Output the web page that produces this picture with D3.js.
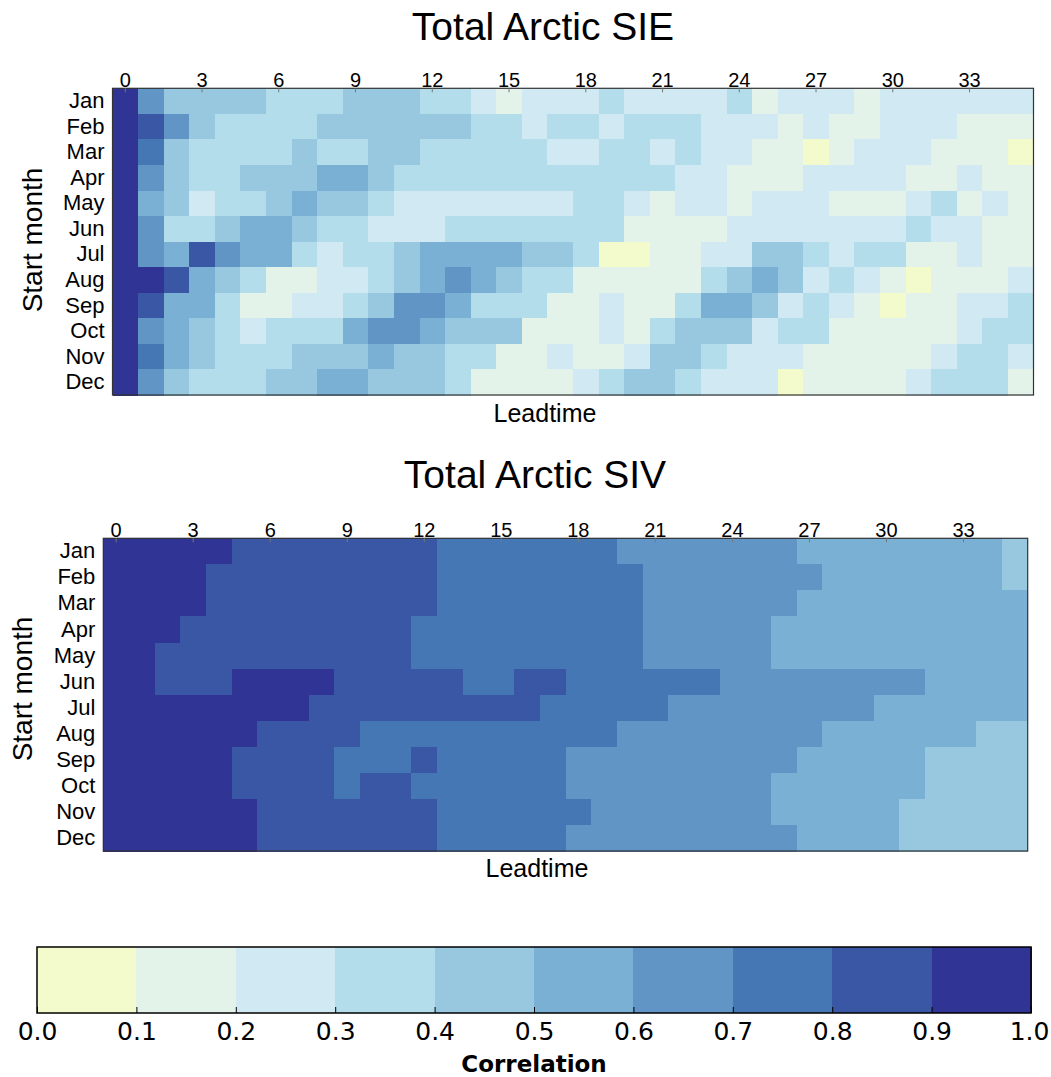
<!DOCTYPE html>
<html>
<head>
<meta charset="utf-8">
<script src="https://cdn.jsdelivr.net/npm/d3@7"></script>
<style>
  body { margin: 0; background: #fff; }
  text { font-family: "Liberation Sans", Arial, sans-serif; fill: #000; }
  .cbar text { font-family: "DejaVu Sans", sans-serif; }
</style>
</head>
<body>
<svg id="chart" width="1051" height="1077"></svg>
<script>
const months = ['Jan', 'Feb', 'Mar', 'Apr', 'May', 'Jun', 'Jul', 'Aug', 'Sep', 'Oct', 'Nov', 'Dec'];
const leadtimes = d3.range(36);
const leadTicks = [0, 3, 6, 9, 12, 15, 18, 21, 24, 27, 30, 33];
const corrTicks = [0, 0.1, 0.2, 0.3, 0.4, 0.5, 0.6, 0.7, 0.8, 0.9, 1.0];
const binColors = ['#f3facb', '#e4f3ea', '#d1e9f2', '#b3ddea', '#97c8df',
                   '#79b0d3', '#6095c5', '#4577b5', '#3a57a6', '#303494'];

// correlation per start month (rows) and leadtime 0..35 (cols)
const sieValues = [
  [.95,.65,.45,.45,.45,.45,.35,.35,.35,.45,.45,.45,.35,.35,.25,.15,.25,.25,.25,.35,.25,.25,.25,.25,.35,.15,.25,.25,.25,.15,.25,.25,.25,.25,.25,.25],
  [.95,.85,.65,.45,.35,.35,.35,.35,.45,.45,.45,.45,.45,.45,.35,.35,.25,.35,.35,.25,.35,.35,.35,.25,.25,.25,.15,.25,.15,.15,.25,.25,.25,.15,.15,.15],
  [.95,.75,.45,.35,.35,.35,.35,.45,.35,.35,.45,.45,.35,.35,.35,.35,.35,.25,.25,.35,.35,.25,.35,.25,.25,.15,.15,.05,.15,.25,.25,.25,.15,.15,.15,.05],
  [.95,.65,.45,.35,.35,.45,.45,.45,.55,.55,.45,.35,.35,.35,.35,.35,.35,.35,.35,.35,.35,.35,.25,.25,.15,.15,.15,.25,.25,.25,.25,.15,.15,.25,.15,.15],
  [.95,.55,.45,.25,.35,.35,.45,.55,.45,.45,.35,.25,.25,.25,.25,.25,.25,.25,.35,.35,.25,.15,.25,.25,.15,.25,.25,.25,.15,.15,.15,.25,.35,.15,.25,.15],
  [.95,.65,.35,.35,.45,.55,.55,.45,.35,.35,.25,.25,.25,.35,.35,.35,.35,.35,.35,.35,.15,.15,.15,.15,.25,.25,.25,.25,.25,.25,.25,.35,.25,.25,.15,.15],
  [.95,.65,.55,.85,.65,.55,.55,.35,.25,.35,.35,.45,.55,.55,.55,.55,.45,.45,.35,.05,.05,.15,.15,.25,.25,.45,.45,.35,.25,.35,.35,.15,.15,.25,.15,.15],
  [.95,.95,.85,.55,.45,.35,.15,.15,.25,.25,.35,.45,.55,.65,.55,.45,.35,.35,.15,.15,.15,.15,.15,.35,.45,.55,.45,.25,.35,.25,.15,.05,.15,.15,.15,.25],
  [.95,.85,.55,.55,.35,.15,.15,.25,.25,.35,.45,.65,.65,.55,.35,.35,.35,.15,.15,.25,.15,.15,.35,.55,.55,.45,.25,.35,.25,.15,.05,.15,.15,.25,.25,.35],
  [.95,.65,.55,.45,.35,.25,.35,.35,.35,.55,.65,.65,.55,.45,.45,.45,.15,.15,.15,.25,.15,.35,.45,.45,.45,.25,.35,.35,.15,.15,.15,.15,.15,.25,.35,.35],
  [.95,.75,.55,.45,.35,.35,.35,.45,.45,.45,.55,.45,.45,.35,.35,.15,.15,.25,.15,.15,.25,.45,.45,.35,.25,.25,.25,.15,.15,.15,.15,.15,.25,.35,.35,.25],
  [.95,.65,.45,.35,.35,.35,.45,.45,.55,.55,.45,.45,.45,.35,.15,.15,.15,.15,.25,.35,.45,.45,.35,.25,.25,.25,.05,.15,.15,.15,.15,.25,.35,.35,.35,.15]
];

const sivValues = [
  [.95,.95,.95,.95,.95,.85,.85,.85,.85,.85,.85,.85,.85,.75,.75,.75,.75,.75,.75,.75,.65,.65,.65,.65,.65,.65,.65,.55,.55,.55,.55,.55,.55,.55,.55,.45],
  [.95,.95,.95,.95,.85,.85,.85,.85,.85,.85,.85,.85,.85,.75,.75,.75,.75,.75,.75,.75,.75,.65,.65,.65,.65,.65,.65,.65,.55,.55,.55,.55,.55,.55,.55,.45],
  [.95,.95,.95,.95,.85,.85,.85,.85,.85,.85,.85,.85,.85,.75,.75,.75,.75,.75,.75,.75,.75,.65,.65,.65,.65,.65,.65,.55,.55,.55,.55,.55,.55,.55,.55,.55],
  [.95,.95,.95,.85,.85,.85,.85,.85,.85,.85,.85,.85,.75,.75,.75,.75,.75,.75,.75,.75,.75,.65,.65,.65,.65,.65,.55,.55,.55,.55,.55,.55,.55,.55,.55,.55],
  [.95,.95,.85,.85,.85,.85,.85,.85,.85,.85,.85,.85,.75,.75,.75,.75,.75,.75,.75,.75,.75,.65,.65,.65,.65,.65,.55,.55,.55,.55,.55,.55,.55,.55,.55,.55],
  [.95,.95,.85,.85,.85,.95,.95,.95,.95,.85,.85,.85,.85,.85,.75,.75,.85,.85,.75,.75,.75,.75,.75,.75,.65,.65,.65,.65,.65,.65,.65,.65,.55,.55,.55,.55],
  [.95,.95,.95,.95,.95,.95,.95,.95,.85,.85,.85,.85,.85,.85,.85,.85,.85,.75,.75,.75,.75,.75,.65,.65,.65,.65,.65,.65,.65,.65,.55,.55,.55,.55,.55,.55],
  [.95,.95,.95,.95,.95,.95,.85,.85,.85,.85,.75,.75,.75,.75,.75,.75,.75,.75,.75,.75,.65,.65,.65,.65,.65,.65,.65,.65,.55,.55,.55,.55,.55,.55,.45,.45],
  [.95,.95,.95,.95,.95,.85,.85,.85,.85,.75,.75,.75,.85,.75,.75,.75,.75,.75,.65,.65,.65,.65,.65,.65,.65,.65,.65,.55,.55,.55,.55,.55,.45,.45,.45,.45],
  [.95,.95,.95,.95,.95,.85,.85,.85,.85,.75,.85,.85,.75,.75,.75,.75,.75,.75,.65,.65,.65,.65,.65,.65,.65,.65,.55,.55,.55,.55,.55,.55,.45,.45,.45,.45],
  [.95,.95,.95,.95,.95,.95,.85,.85,.85,.85,.85,.85,.85,.75,.75,.75,.75,.75,.75,.65,.65,.65,.65,.65,.65,.65,.55,.55,.55,.55,.55,.45,.45,.45,.45,.45],
  [.95,.95,.95,.95,.95,.95,.85,.85,.85,.85,.85,.85,.85,.75,.75,.75,.75,.75,.65,.65,.65,.65,.65,.65,.65,.65,.65,.55,.55,.55,.55,.45,.45,.45,.45,.45]
];

const svg = d3.select('#chart');
const color = d3.scaleQuantize().domain([0, 1]).range(binColors);

function drawHeatmap(values, box, labels) {
  const x = d3.scaleBand().domain(leadtimes).range([box.left, box.right]);
  const y = d3.scaleBand().domain(months).range([box.top, box.bottom]);
  const g = svg.append('g');

  const cells = values.flatMap((row, i) =>
    row.map((v, j) => ({ month: months[i], lead: leadtimes[j], value: v })));

  g.append('g')
    .attr('shape-rendering', 'crispEdges')
    .selectAll('rect')
    .data(cells)
    .join('rect')
      .attr('x', d => x(d.lead))
      .attr('y', d => y(d.month))
      .attr('width', x.bandwidth() + 0.6)
      .attr('height', y.bandwidth() + 0.6)
      .attr('fill', d => color(d.value));

  g.append('rect')
    .attr('x', box.left).attr('y', box.top)
    .attr('width', box.right - box.left).attr('height', box.bottom - box.top)
    .attr('fill', 'none').attr('stroke', '#333').attr('stroke-width', 1.2);

  const xAxis = g.append('g')
    .attr('transform', `translate(0,${box.top})`)
    .call(d3.axisTop(x).tickValues(leadTicks).tickSize(-4).tickPadding(1));
  xAxis.select('.domain').remove();
  xAxis.selectAll('line').attr('stroke', '#777');
  xAxis.selectAll('text').attr('font-size', 20).attr('font-family', '"Liberation Sans", Arial, sans-serif');

  const yAxis = g.append('g')
    .attr('transform', `translate(${box.left},0)`)
    .call(d3.axisLeft(y).tickSize(0).tickPadding(8));
  yAxis.select('.domain').remove();
  yAxis.selectAll('text').attr('font-size', 22).attr('font-family', '"Liberation Sans", Arial, sans-serif');

  g.append('text')
    .attr('x', labels.titleX).attr('y', labels.titleY)
    .attr('text-anchor', 'middle').attr('font-size', 39)
    .text(labels.title);

  g.append('text')
    .attr('x', labels.xLabelX).attr('y', labels.xLabelY)
    .attr('text-anchor', 'middle').attr('font-size', 25)
    .text('Leadtime');

  g.append('text')
    .attr('transform', `translate(${labels.yLabelX},${labels.yLabelY}) rotate(-90)`)
    .attr('text-anchor', 'middle').attr('dy', '0.35em').attr('font-size', 28)
    .text('Start month');
}

drawHeatmap(sieValues, { left: 112.5, right: 1033.5, top: 88.3, bottom: 395 }, {
  title: 'Total Arctic SIE', titleX: 543, titleY: 40,
  xLabelX: 545, xLabelY: 422, yLabelX: 32, yLabelY: 240
});

drawHeatmap(sivValues, { left: 103.3, right: 1027.7, top: 538.3, bottom: 851 }, {
  title: 'Total Arctic SIV', titleX: 535, titleY: 488,
  xLabelX: 537, xLabelY: 877, yLabelX: 22, yLabelY: 689
});

// colorbar
const cb = { left: 37, right: 1031, top: 947, bottom: 1013 };
const cx = d3.scaleLinear().domain([0, 1]).range([cb.left, cb.right]);
const bins = d3.pairs(corrTicks);
const cbar = svg.append('g').attr('class', 'cbar');

cbar.append('g')
  .attr('shape-rendering', 'crispEdges')
  .selectAll('rect')
  .data(bins)
  .join('rect')
    .attr('x', d => cx(d[0]))
    .attr('y', cb.top)
    .attr('width', d => cx(d[1]) - cx(d[0]) + 0.6)
    .attr('height', cb.bottom - cb.top)
    .attr('fill', d => color((d[0] + d[1]) / 2));

cbar.append('rect')
  .attr('x', cb.left).attr('y', cb.top)
  .attr('width', cb.right - cb.left).attr('height', cb.bottom - cb.top)
  .attr('fill', 'none').attr('stroke', '#000').attr('stroke-width', 1.5);

const cAxis = cbar.append('g')
  .attr('transform', `translate(0,${cb.bottom})`)
  .call(d3.axisBottom(cx).tickValues(corrTicks).tickFormat(d3.format('.1f')).tickSize(-6).tickPadding(9));
cAxis.select('.domain').remove();
cAxis.selectAll('line').attr('stroke', '#000');
cAxis.selectAll('text').attr('font-size', 25).attr('font-family', '"DejaVu Sans", sans-serif');
// keep the last label inside the page
cAxis.selectAll('text').filter(d => d === 1).attr('x', -2);

cbar.append('text')
  .attr('x', (cb.left + cb.right) / 2).attr('y', 1072)
  .attr('text-anchor', 'middle').attr('font-size', 23).attr('font-weight', 'bold')
  .text('Correlation');
</script>
</body>
</html>
